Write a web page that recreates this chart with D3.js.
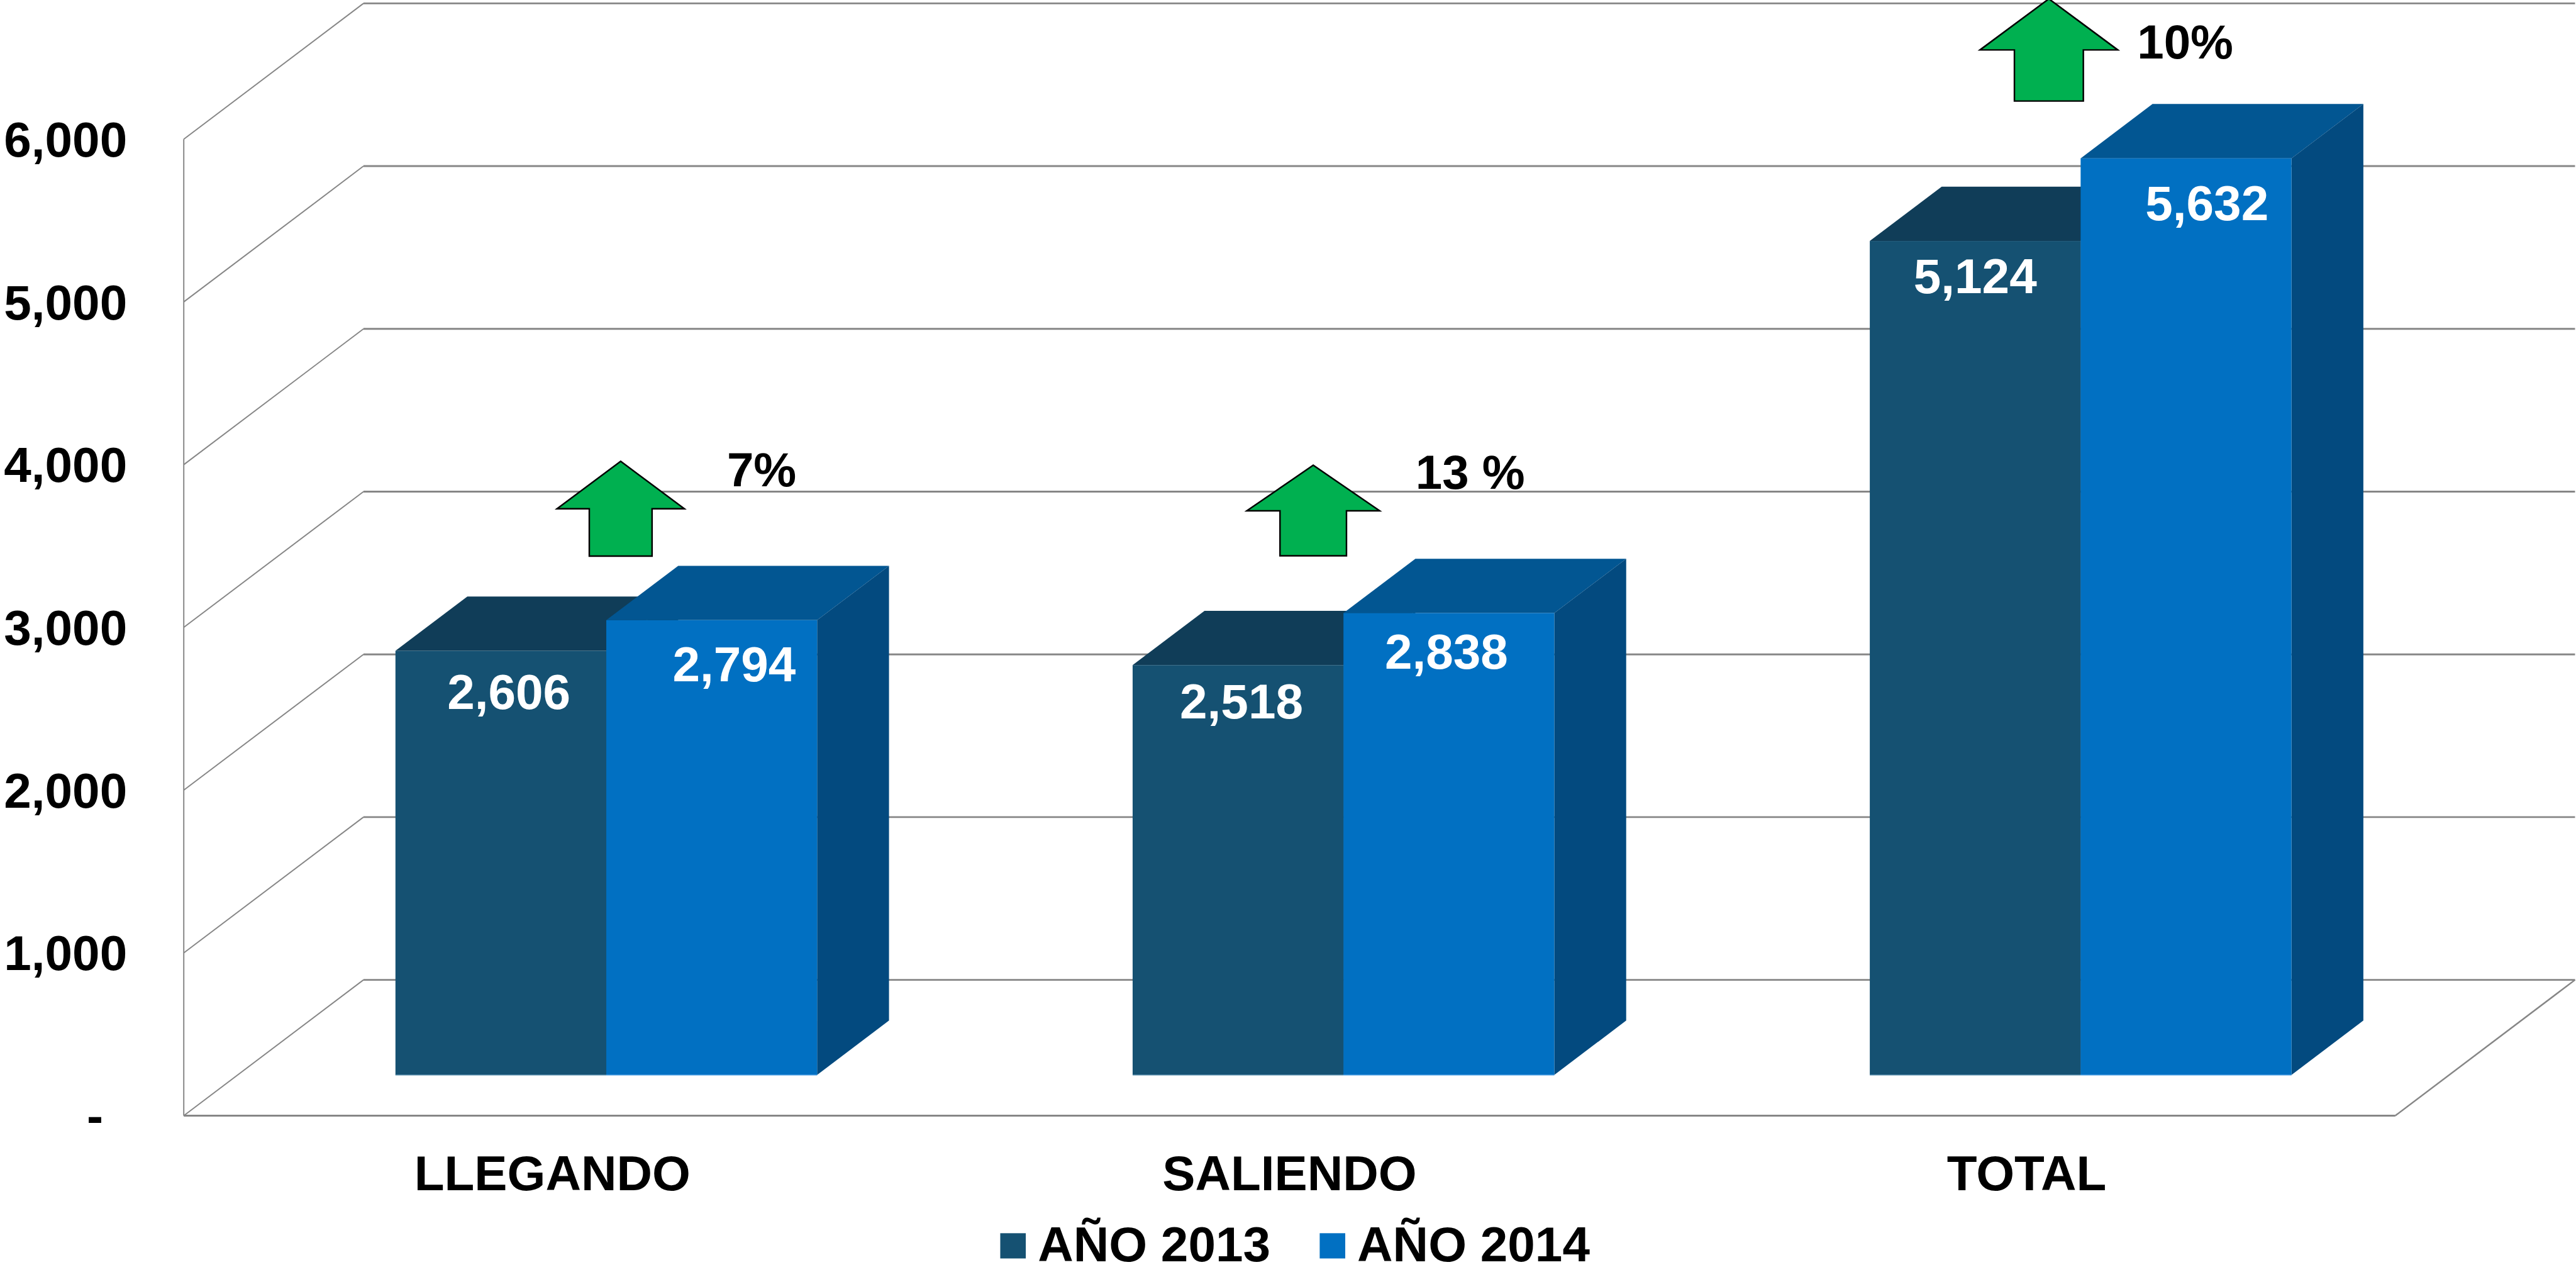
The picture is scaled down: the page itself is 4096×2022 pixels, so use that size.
<!DOCTYPE html>
<html>
<head>
<meta charset="utf-8">
<script src="https://cdn.jsdelivr.net/npm/d3@7/dist/d3.min.js"></script>
<style>
html,body{margin:0;padding:0;background:#fff;overflow:hidden}
svg{display:block}
text{font-family:"Liberation Sans",Arial,sans-serif;font-weight:700;font-size:80px}
</style>
</head>
<body>
<svg id="chart" width="4096" height="2022" viewBox="0 0 4185 2066"></svg>
<script>
// ---- data ----
const categories = ["LLEGANDO", "SALIENDO", "TOTAL"];
const seriesNames = ["AÑO 2013", "AÑO 2014"];
const values2013 = [2606, 2518, 5124];
const values2014 = [2794, 2838, 5632];
const changeLabels = ["7%", "13 %", "10%"];
const yTickValues = [0, 1000, 2000, 3000, 4000, 5000, 6000];

// ---- layout (reference pixels) ----
const floor = {left: 298.5, right: 3891.5, front: 1812, top: 226};
const depth = {dx: 292, dy: 220.5};
const barStart = 0.3, barDepth = 0.4;
const labelNudge2013 = [[13, 95], [5.6, 87], [0, 85]];
const labelNudge2014 = [[36.5, 99], [-4, 90], [34, 100]];
const arrowShape = [
  {dx: 111,  gap: 104, stem: 77, head: 77, hs: 51, hh: 103.5},
  {dx: 38.5, gap: 93,  stem: 73, head: 74, hs: 54, hh: 108},
  {dx: 36,   gap: 93,  stem: 83, head: 83, hs: 56, hh: 112}
];
const changeNudge = [[340, 217], [293.5, 201.7], [257.5, 162]];

const colors = {
  front: ["#155172", "#0170C2"],
  top:   ["#103D58", "#025692"],
  side:  ["#0E3A55", "#034A7F"],
  edge:  ["#4f86a6", "#3f97e0"],
  grid: "#868686", arrow: "#00B050"
};

const svg = d3.select("#chart");
svg.append("rect").attr("width", 4185).attr("height", 2066).attr("fill", "#fff");

const x = d3.scaleBand().domain(categories).range([floor.left, floor.right])
  .paddingInner(0.428).paddingOuter(0.214);
const xInner = d3.scaleBand().domain([0, 1]).range([0, x.bandwidth()]);
const y = d3.scaleLinear().domain([0, 6000]).range([floor.front, floor.top]);

// ---- walls and floor ----
const grid = svg.append("g").attr("fill", "none").attr("stroke", colors.grid);
grid.selectAll("line.back").data(yTickValues).join("line").attr("class", "back")
  .attr("x1", floor.left + depth.dx).attr("x2", floor.right + depth.dx)
  .attr("y1", d => y(d) - depth.dy).attr("y2", d => y(d) - depth.dy)
  .attr("stroke-width", 3);
grid.selectAll("line.side").data(yTickValues).join("line").attr("class", "side")
  .attr("x1", floor.left).attr("x2", floor.left + depth.dx)
  .attr("y1", d => y(d)).attr("y2", d => y(d) - depth.dy)
  .attr("stroke-width", 2);
grid.append("line").attr("x1", floor.left).attr("x2", floor.left)
  .attr("y1", y(6000)).attr("y2", y(0)).attr("stroke-width", 2);
grid.append("line").attr("x1", floor.left).attr("x2", floor.right)
  .attr("y1", y(0)).attr("y2", y(0)).attr("stroke-width", 3);
grid.append("line").attr("x1", floor.right).attr("x2", floor.right + depth.dx)
  .attr("y1", y(0)).attr("y2", y(0) - depth.dy).attr("stroke-width", 2.5);

// ---- 3D bars ----
const ox = depth.dx * barStart, oy = depth.dy * barStart;
const bx = depth.dx * barDepth, by = depth.dy * barDepth;
const barLeft = (c, s) => x(c) + xInner(s) + ox;
const barTop = v => y(v) - oy;
const base = y(0) - oy;
const w = xInner.bandwidth();
const pts = a => a.map(p => p.join(",")).join(" ");

[values2013, values2014].forEach((vals, s) => {
  const g = svg.append("g").attr("class", "series-" + s);
  const rows = categories.map((c, i) => ({c, v: vals[i]}));
  g.selectAll("polygon.top").data(rows).join("polygon").attr("class", "top")
    .attr("fill", colors.top[s])
    .attr("points", d => {
      const l = barLeft(d.c, s), t = barTop(d.v);
      return pts([[l, t], [l + bx, t - by], [l + w + bx, t - by], [l + w, t]]);
    });
  g.selectAll("polygon.side").data(rows).join("polygon").attr("class", "side")
    .attr("fill", colors.side[s])
    .attr("points", d => {
      const r = barLeft(d.c, s) + w, t = barTop(d.v);
      return pts([[r, t], [r + bx, t - by], [r + bx, base - by], [r, base]]);
    });
  g.selectAll("rect.front").data(rows).join("rect").attr("class", "front")
    .attr("fill", colors.front[s])
    .attr("x", d => barLeft(d.c, s)).attr("width", w)
    .attr("y", d => barTop(d.v)).attr("height", d => base - barTop(d.v));
  g.selectAll("line.edge").data(rows).join("line").attr("class", "edge")
    .attr("stroke", colors.edge[s]).attr("stroke-width", 1.5)
    .attr("x1", d => barLeft(d.c, s)).attr("x2", d => barLeft(d.c, s) + w)
    .attr("y1", base).attr("y2", base);
});

// ---- value labels ----
[[values2013, labelNudge2013], [values2014, labelNudge2014]].forEach(([vals, nudge], s) => {
  svg.append("g").selectAll("text").data(categories).join("text")
    .attr("fill", "#fff").attr("text-anchor", "middle")
    .attr("x", (c, i) => barLeft(c, s) + w / 2 + nudge[i][0])
    .attr("y", (c, i) => barTop(vals[i]) + nudge[i][1])
    .text((c, i) => d3.format(",")(vals[i]));
});

// ---- change arrows and labels ----
const centre = c => x(c) + x.bandwidth() / 2;
svg.append("g").selectAll("path").data(categories).join("path")
  .attr("fill", colors.arrow).attr("stroke", "#000").attr("stroke-width", 2.5)
  .attr("stroke-linejoin", "miter")
  .attr("d", (c, i) => {
    const a = arrowShape[i], cx = centre(c) + a.dx;
    const b = barTop(values2014[i]) - a.gap, h = b - a.stem, t = h - a.head;
    return d3.line()([[cx - a.hs, b], [cx - a.hs, h], [cx - a.hh, h], [cx, t],
      [cx + a.hh, h], [cx + a.hs, h], [cx + a.hs, b]]) + "Z";
  });
svg.append("g").selectAll("text").data(categories).join("text")
  .attr("fill", "#000").attr("text-anchor", "middle")
  .style("font-size", "78px")
  .attr("x", (c, i) => centre(c) + changeNudge[i][0])
  .attr("y", (c, i) => barTop(values2014[i]) - changeNudge[i][1])
  .text((c, i) => changeLabels[i]);

// ---- axes ----
const yAxis = svg.append("g").attr("transform", `translate(${floor.left},0)`)
  .call(d3.axisLeft(y).tickValues(yTickValues).tickSize(0).tickPadding(91.5)
    .tickFormat(d => d === 0 ? "-" : d3.format(",")(d)));
yAxis.select(".domain").remove();
yAxis.selectAll("text").attr("fill", "#000").attr("dy", "27.7px")
  .attr("x", d => d === 0 ? -131 : -92)
  .style("font-size", "80px").style("font-family", '"Liberation Sans",Arial,sans-serif');

const xAxis = svg.append("g").attr("transform", `translate(0,${floor.front})`)
  .call(d3.axisBottom(x).tickSize(0).tickPadding(0));
xAxis.select(".domain").remove();
xAxis.selectAll("text").attr("fill", "#000").attr("y", 121).attr("dy", 0)
  .style("font-size", "80px").style("font-family", '"Liberation Sans",Arial,sans-serif');

// ---- legend ----
const legendX = d3.scalePoint().domain(seriesNames).range([1625, 2144]);
const legend = svg.append("g").selectAll("g").data(seriesNames).join("g")
  .attr("transform", d => `translate(${legendX(d)},0)`);
legend.append("rect").attr("x", 0).attr("y", 2003).attr("width", 41.5).attr("height", 41)
  .attr("fill", (d, i) => colors.front[i]);
legend.append("text").attr("x", 61).attr("y", 2049).attr("fill", "#000").text(d => d);
</script>
</body>
</html>
